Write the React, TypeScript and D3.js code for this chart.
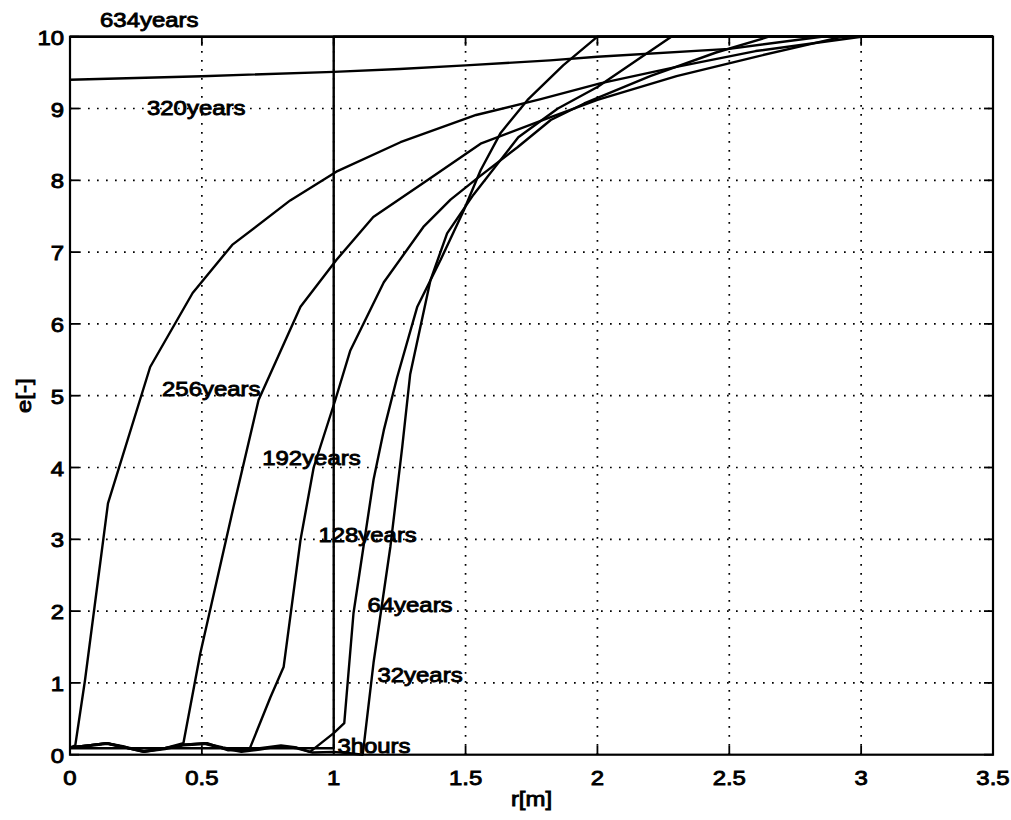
import React from "react";
import * as d3 from "d3";

// Axis ticks
const xTicks = [0, 0.5, 1, 1.5, 2, 2.5, 3, 3.5];
const yTicks = [0, 1, 2, 3, 4, 5, 6, 7, 8, 9, 10];

// Profiles e(r) at successive times
const r3hours = [0, 1, 1, 3.5];
const e3hours = [0.09, 0.09, 10, 10];

const r32years = [0, 0.07, 0.14, 0.21, 0.28, 0.36, 0.43, 0.51, 0.58, 0.65, 0.72, 0.8, 0.86, 0.92, 1.0, 1.06, 1.11, 1.151, 1.215, 1.26, 1.29, 1.367, 1.43, 1.53, 1.7, 1.85, 2.0, 2.28, 3.5];
const e32years = [0.1, 0.12, 0.15, 0.1, 0.04, 0.08, 0.13, 0.15, 0.09, 0.04, 0.07, 0.12, 0.09, 0.03, 0.04, 0.02, 0.0, 1.28, 2.9, 4.29, 5.3, 6.61, 7.26, 7.8, 8.6, 9.0, 9.3, 10, 10];

const r64years = [0, 0.07, 0.14, 0.21, 0.28, 0.36, 0.43, 0.51, 0.58, 0.65, 0.72, 0.8, 0.86, 0.91, 1.0, 1.04, 1.075, 1.113, 1.151, 1.19, 1.24, 1.317, 1.405, 1.493, 1.557, 1.633, 1.735, 1.87, 2.0, 3.5];
const e64years = [0.1, 0.13, 0.16, 0.1, 0.05, 0.09, 0.14, 0.16, 0.1, 0.05, 0.09, 0.13, 0.1, 0.04, 0.3, 0.44, 1.97, 2.9, 3.83, 4.52, 5.25, 6.24, 6.89, 7.58, 8.14, 8.66, 9.12, 9.6, 10, 10];

const r128years = [0, 0.07, 0.14, 0.21, 0.28, 0.36, 0.43, 0.52, 0.6, 0.68, 0.76, 0.81, 0.874, 0.924, 1.006, 1.063, 1.19, 1.34, 1.443, 1.545, 1.697, 1.823, 1.95, 2.2, 2.45, 2.65, 3.5];
const e128years = [0.1, 0.13, 0.16, 0.11, 0.05, 0.09, 0.14, 0.16, 0.06, 0.07, 0.8, 1.22, 2.99, 4.0, 4.94, 5.63, 6.58, 7.35, 7.73, 8.03, 8.46, 8.84, 9.07, 9.45, 9.78, 10, 10];

const r192years = [0, 0.07, 0.14, 0.21, 0.28, 0.36, 0.43, 0.494, 0.62, 0.715, 0.874, 1.01, 1.15, 1.355, 1.557, 1.8, 2.0, 2.3, 2.6, 2.93, 3.5];
const e192years = [0.1, 0.13, 0.16, 0.1, 0.04, 0.09, 0.16, 1.41, 3.45, 4.94, 6.24, 6.89, 7.49, 8.0, 8.51, 8.85, 9.12, 9.45, 9.72, 10, 10];

const r256years = [0, 0.02, 0.057, 0.144, 0.304, 0.465, 0.615, 0.835, 1.01, 1.253, 1.54, 1.785, 2.01, 2.3, 2.6, 3.0, 3.5];
const e256years = [0.1, 0.13, 1.04, 3.5, 5.4, 6.43, 7.1, 7.72, 8.12, 8.53, 8.91, 9.13, 9.35, 9.58, 9.8, 10, 10];

const r320years = [0, 0.5, 1.0, 1.25, 1.5, 1.82, 2.0, 2.5, 2.85, 3.5];
const e320years = [9.4, 9.45, 9.51, 9.55, 9.6, 9.67, 9.72, 9.83, 10, 10];

const r634years = [0, 3.5];
const e634years = [10, 10];

// Curve annotations
const labelText = ["634years", "320years", "256years", "192years", "128years", "64years", "32years", "3hours"];
const labelR = [0.114, 0.292, 0.349, 0.729, 0.942, 1.128, 1.166, 1.014];
const labelE = [10.13, 8.91, 5.0, 4.03, 2.96, 1.99, 1.01, 0.02];

const W = 1011;
const H = 820;
const FONT = "'Liberation Sans', Arial, Helvetica, sans-serif";
const SX = 1.14;

function Txt({ x, y, children, anchor = "start", rotate = 0, size = 21 }: any) {
  const t = rotate
    ? `translate(${x},${y}) rotate(${rotate}) scale(${SX},1)`
    : `translate(${x},${y}) scale(${SX},1)`;
  return (
    <text
      transform={t}
      textAnchor={anchor}
      fontFamily={FONT}
      fontSize={size}
      fill="#000"
      stroke="#000"
      strokeWidth={0.9}
    >
      {children}
    </text>
  );
}

export default function App() {
  const x = d3.scaleLinear().domain([0, 3.5]).range([70, 993]);
  const y = d3.scaleLinear().domain([0, 10]).range([754.7, 36.7]);
  const line = d3
    .line<[number, number]>()
    .x((d) => x(d[0]))
    .y((d) => y(d[1]));

  const series: [number[], number[]][] = [
    [r3hours, e3hours],
    [r32years, e32years],
    [r64years, e64years],
    [r128years, e128years],
    [r192years, e192years],
    [r256years, e256years],
    [r320years, e320years],
    [r634years, e634years],
  ];

  const [x0, x1] = x.range();
  const [y0, y1] = y.range();
  const tickLen = 9;

  return (
    <svg width={W} height={H} style={{ position: "absolute", left: 0, top: 0, background: "#fff" }}>
      <rect x={0} y={0} width={W} height={H} fill="#fff" />
      {/* dotted grid */}
      <g stroke="#000" strokeWidth={1.7} strokeDasharray="1.7 7.3" fill="none">
        {xTicks
          .filter((t) => t > 0 && t < 3.5)
          .map((t) => (
            <line key={"gx" + t} x1={x(t)} x2={x(t)} y1={y0} y2={y1} />
          ))}
        {yTicks
          .filter((t) => t > 0 && t < 10)
          .map((t) => (
            <line key={"gy" + t} x1={x0} x2={x1} y1={y(t)} y2={y(t)} />
          ))}
      </g>
      {/* tick marks on all four sides */}
      <g stroke="#000" strokeWidth={1.8}>
        {xTicks.map((t) => (
          <g key={"tx" + t}>
            <line x1={x(t)} x2={x(t)} y1={y0} y2={y0 - tickLen} />
            <line x1={x(t)} x2={x(t)} y1={y1} y2={y1 + tickLen} />
          </g>
        ))}
        {yTicks.map((t) => (
          <g key={"ty" + t}>
            <line x1={x0} x2={x0 + tickLen} y1={y(t)} y2={y(t)} />
            <line x1={x1} x2={x1 - tickLen} y1={y(t)} y2={y(t)} />
          </g>
        ))}
      </g>
      {/* curves */}
      <g fill="none" stroke="#000" strokeWidth={2.4} strokeLinejoin="round">
        {series.map(([rs, es], i) => (
          <path key={"c" + i} d={line(rs.map((r, j) => [r, es[j]] as [number, number])) || ""} />
        ))}
      </g>
      {/* axes box */}
      <rect x={x0} y={y1} width={x1 - x0} height={y0 - y1} fill="none" stroke="#000" strokeWidth={2.2} />
      {/* tick labels */}
      {xTicks.map((t) => (
        <Txt key={"lx" + t} x={x(t)} y={785} anchor="middle">
          {String(t)}
        </Txt>
      ))}
      {yTicks.map((t) => (
        <Txt key={"ly" + t} x={64} y={y(t) + 8} anchor="end">
          {String(t)}
        </Txt>
      ))}
      {/* axis titles */}
      <Txt x={(x0 + x1) / 2} y={806} anchor="middle">
        r[m]
      </Txt>
      <Txt x={31} y={(y0 + y1) / 2} anchor="middle" rotate={-90}>
        e[-]
      </Txt>
      {/* curve labels */}
      {labelText.map((s, i) => (
        <Txt key={"cl" + i} x={x(labelR[i])} y={y(labelE[i])}>
          {s}
        </Txt>
      ))}
    </svg>
  );
}
